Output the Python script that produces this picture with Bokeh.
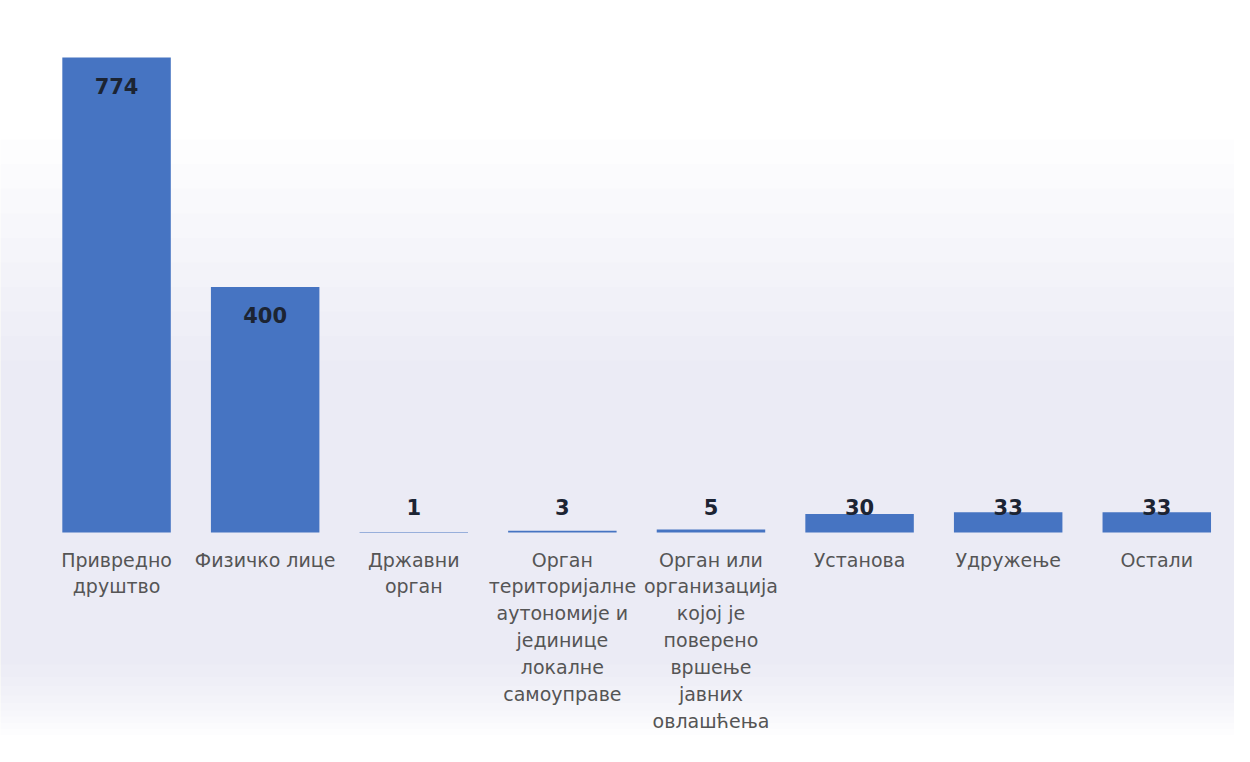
from bokeh.plotting import figure
from bokeh.models import ColumnDataSource, Range1d, BoxAnnotation
from bokeh.core.properties import value
from bokeh.embed import file_html
from bokeh.resources import INLINE

categories = [
    "Привредно\nдруштво",
    "Физичко лице",
    "Државни\nорган",
    "Орган\nтериторијалне\nаутономије и\nјединице\nлокалне\nсамоуправе",
    "Орган или\nорганизација\nкојој је\nповерено\nвршење\nјавних\nовлашћења",
    "Установа",
    "Удружење",
    "Остали",
]
values = [774, 400, 1, 3, 5, 30, 33, 33]
value_labels = [str(v) for v in values]
xpos = list(range(len(categories)))

BAR = "#4674C2"

p = figure(width=1234, height=746, x_range=Range1d(-0.781, 7.523), y_range=Range1d(-348.7, 866.9),
           output_backend="svg", toolbar_location=None,
           min_border_left=0, min_border_right=0, min_border_top=0, min_border_bottom=0)
p.xaxis.visible = False
p.yaxis.visible = False
p.xgrid.visible = False
p.ygrid.visible = False
p.outline_line_color = None
p.background_fill_color = "white"
p.border_fill_color = "white"

# soft scanned-page tint
bands = [(640, -330), (600, -320), (560, -310), (520, -300), (480, -290),
         (440, -278), (400, -265), (360, -250), (320, -235), (280, -215)]
for top, bottom in bands:
    p.add_layout(BoxAnnotation(top=top, bottom=bottom, fill_color="#bfcde6", fill_alpha=0.03,
                               line_color=None, level="underlay"))

src = ColumnDataSource(dict(x=xpos, top=values))
p.vbar(x="x", top="top", width=0.73, bottom=0, source=src, fill_color=BAR, line_color=None)

inside = [i for i, v in enumerate(values) if v > 100]
outside = [i for i, v in enumerate(values) if v <= 100]
src_in = ColumnDataSource(dict(x=[xpos[i] for i in inside], y=[values[i] for i in inside],
                               lab=[value_labels[i] for i in inside]))
src_out = ColumnDataSource(dict(x=[xpos[i] for i in outside], y=[0] * len(outside),
                                lab=[value_labels[i] for i in outside]))
lab_style = dict(text_align="center", text_baseline="middle", text_font=value("DejaVu Sans"),
                 text_font_style="bold", text_font_size="21px", text_color="#1c2433")
p.text(x="x", y="y", text="lab", source=src_in, y_offset=28, **lab_style)
p.text(x="x", y="y", text="lab", source=src_out, y_offset=-26, **lab_style)

src_cat = ColumnDataSource(dict(x=xpos, y=[0] * len(xpos), cat=categories))
p.text(x="x", y="y", text="cat", source=src_cat, y_offset=16, text_align="center",
       text_baseline="top", text_font=value("DejaVu Sans"), text_font_size="19px",
       text_color="#555555", text_line_height=1.22)

open("out.html", "w").write(file_html(p, INLINE))
